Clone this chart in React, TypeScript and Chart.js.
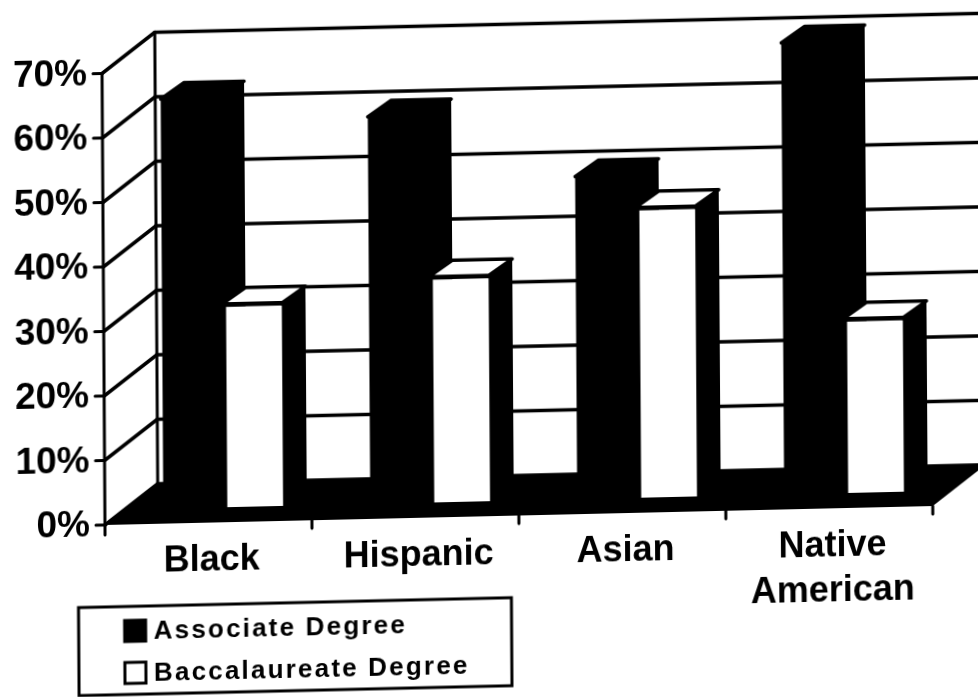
import React, { useEffect, useRef } from "react";
import { Chart, registerables } from "chart.js";

Chart.register(...registerables);

const categories: (string | string[])[] = ["Black", "Hispanic", "Asian", ["Native", "American"]];
const associateDegree = [63.5, 60, 50, 70];
const baccalaureateDegree = [31.5, 35, 45, 27];
const seriesNames = ["Associate Degree", "Baccalaureate Degree"];
const percentTicks = [0, 10, 20, 30, 40, 50, 60, 70];

const FONT = '"Liberation Sans", Arial, sans-serif';
const INK = "#000000";

// Canvas size; slightly larger than the page because the whole drawing is sheared.
const CANVAS_W = 1000;
const CANVAS_H = 720;

// Offsets of the 3D box relative to the plane in which the bar faces stand.
const FRONT = { dx: -15, dy: 15 };
const BACK = { dx: 38, dy: -25 };
const BAR_DEPTH = { dx: 23.5, dy: -16 };

function poly(ctx: CanvasRenderingContext2D, pts: number[][]) {
  ctx.beginPath();
  pts.forEach(([x, y], i) => (i ? ctx.lineTo(x, y) : ctx.moveTo(x, y)));
  ctx.closePath();
}

function segment(ctx: CanvasRenderingContext2D, x0: number, y0: number, x1: number, y1: number) {
  ctx.beginPath();
  ctx.moveTo(x0, y0);
  ctx.lineTo(x1, y1);
  ctx.stroke();
}

// Back wall, side wall, floor and the depth faces of each bar.
const box3d = {
  id: "box3d",
  beforeDatasetsDraw(chart: any) {
    const { ctx, chartArea, scales } = chart;
    const yS = scales.y;
    const fl = chartArea.left + FRONT.dx;
    const fr = chartArea.right + FRONT.dx;
    const bl = chartArea.left + BACK.dx;
    const br = chartArea.right + BACK.dx;
    const base = yS.getPixelForValue(0);

    ctx.save();
    ctx.strokeStyle = INK;
    ctx.lineCap = "round";

    for (const v of percentTicks) {
      const py = yS.getPixelForValue(v);
      ctx.lineWidth = 3.5;
      segment(ctx, fl, py + FRONT.dy, bl, py + BACK.dy);
      segment(ctx, bl, py + BACK.dy, br + 30, py + BACK.dy);
      ctx.lineWidth = 3;
      segment(ctx, fl - 9, py + FRONT.dy, fl, py + FRONT.dy);
    }

    ctx.lineWidth = 3;
    segment(ctx, fl, yS.getPixelForValue(70) + FRONT.dy, fl, base + FRONT.dy + 10);
    segment(ctx, bl, yS.getPixelForValue(70) + BACK.dy, bl, base + BACK.dy);

    ctx.fillStyle = INK;
    poly(ctx, [
      [fl, base + FRONT.dy],
      [bl, base + BACK.dy],
      [br, base + BACK.dy],
      [fr, base + FRONT.dy],
    ]);
    ctx.fill();

    const step = (fr - fl) / categories.length;
    for (let i = 1; i <= categories.length; i++) {
      const tx = fl + step * i;
      segment(ctx, tx, base + FRONT.dy, tx, base + FRONT.dy + 8);
    }

    const { dx, dy } = BAR_DEPTH;
    chart.data.datasets.forEach((_: any, di: number) => {
      chart.getDatasetMeta(di).data.forEach((bar: any) => {
        const x0 = bar.x - bar.width / 2;
        const x1 = bar.x + bar.width / 2;
        ctx.fillStyle = INK;
        // The side face starts a pixel inside the front face so no seam shows.
        poly(ctx, [
          [x1 - 1, bar.y],
          [x1 + dx, bar.y + dy],
          [x1 + dx, bar.base + dy],
          [x1 - 1, bar.base],
        ]);
        ctx.fill();
        poly(ctx, [
          [x0, bar.y],
          [x0 + dx, bar.y + dy],
          [x1 + dx, bar.y + dy],
          [x1, bar.y],
        ]);
        ctx.fillStyle = di === 0 ? INK : "#ffffff";
        ctx.lineWidth = 3.5;
        ctx.lineJoin = "round";
        ctx.fill();
        ctx.stroke();
      });
    });
    ctx.restore();
  },
};

// Boxed two-row key below the plot, fed from the dataset labels and colours.
const keyBox = {
  id: "keyBox",
  afterDraw(chart: any) {
    const { ctx } = chart;
    ctx.save();
    ctx.fillStyle = "#ffffff";
    ctx.strokeStyle = INK;
    ctx.lineWidth = 3;
    ctx.fillRect(78, 607, 433, 88);
    ctx.strokeRect(78, 607, 433, 88);

    ctx.font = `bold 26px ${FONT}`;
    (ctx as any).letterSpacing = "2.2px";
    ctx.textAlign = "left";
    ctx.textBaseline = "middle";
    chart.data.datasets.forEach((ds: any, i: number) => {
      const cy = 631 + i * 42;
      ctx.fillStyle = ds.backgroundColor;
      ctx.fillRect(124, cy - 10, 21, 21);
      ctx.strokeRect(124, cy - 10, 21, 21);
      ctx.fillStyle = INK;
      ctx.fillText(ds.label, 153, cy + 2);
    });
    ctx.restore();
  },
};

export default function App() {
  const ref = useRef<HTMLCanvasElement>(null);

  useEffect(() => {
    const chart = new Chart(ref.current as HTMLCanvasElement, {
      type: "bar",
      data: {
        labels: categories as any,
        datasets: [
          {
            label: seriesNames[0],
            data: associateDegree,
            backgroundColor: INK,
            borderWidth: 0,
          },
          {
            label: seriesNames[1],
            data: baccalaureateDegree,
            backgroundColor: "#ffffff",
            borderColor: INK,
            borderWidth: { top: 3, left: 4, right: 0, bottom: 0 },
          },
        ],
      },
      options: {
        responsive: false,
        animation: false,
        devicePixelRatio: 1,
        layout: { padding: { top: 58.5, right: CANVAS_W - 948, left: 0, bottom: 0 } },
        datasets: { bar: { categoryPercentage: 0.58, barPercentage: 1 } },
        plugins: { legend: { display: false }, title: { display: false }, tooltip: { enabled: false } },
        scales: {
          x: {
            grid: { display: false, drawTicks: false },
            border: { display: false },
            afterFit: (s: any) => {
              s.height = CANVAS_H - 510;
            },
            ticks: {
              color: INK,
              autoSkip: false,
              maxRotation: 0,
              minRotation: 0,
              padding: 31,
              labelOffset: -12,
              font: { family: FONT, size: 36, weight: "bold", lineHeight: 1.25 },
            },
          },
          y: {
            min: 0,
            max: 70,
            grid: { display: false, drawTicks: false },
            border: { display: false },
            afterFit: (s: any) => {
              s.width = 120;
            },
            ticks: {
              color: INK,
              stepSize: 10,
              padding: 30,
              labelOffset: 16,
              callback: (v: any) => `${v}%`,
              font: { family: FONT, size: 37, weight: "bold" },
            },
          },
        },
      } as any,
      plugins: [box3d, keyBox],
    });
    return () => chart.destroy();
  }, []);

  return (
    <div
      style={{
        position: "fixed",
        left: 0,
        top: 0,
        width: 978,
        height: 697,
        overflow: "hidden",
        background: "#ffffff",
      }}
    >
      <canvas
        ref={ref}
        width={CANVAS_W}
        height={CANVAS_H}
        style={{
          display: "block",
          transformOrigin: "105px 525px",
          transform: "matrix(1, -0.0229, 0.0065, 1, 0, 0)",
        }}
      />
    </div>
  );
}
